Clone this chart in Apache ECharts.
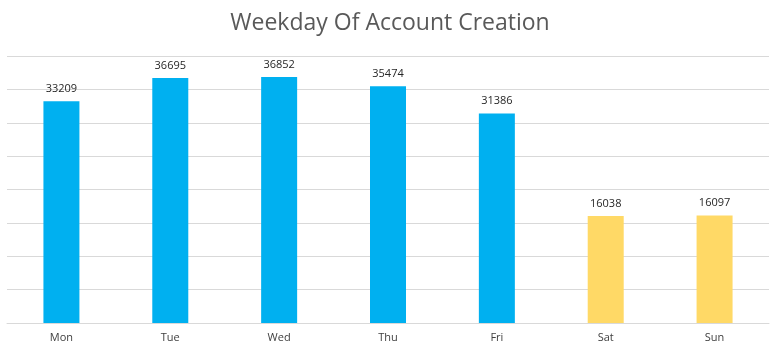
<!DOCTYPE html>
<html>
<head>
<meta charset="utf-8">
<script src="https://cdn.jsdelivr.net/npm/echarts@6/dist/echarts.min.js"></script>
<style>
  html, body { margin: 0; padding: 0; background: #fff; }
  #chart { width: 780px; height: 349px; }
</style>
</head>
<body>
<div id="chart"></div>
<script>
// Accounts created per weekday
const days = ['Mon', 'Tue', 'Wed', 'Thu', 'Fri', 'Sat', 'Sun'];
const accounts = [33209, 36695, 36852, 35474, 31386, 16038, 16097];
const weekendDays = ['Sat', 'Sun'];

const chart = echarts.init(document.getElementById('chart'));
chart.setOption({
  animation: false,
  title: {
    text: 'Weekday Of Account Creation',
    left: 'center',
    top: 7,
    textStyle: {
      fontFamily: 'Open Sans',
      fontWeight: 'normal',
      fontSize: 23,
      color: '#595959'
    }
  },
  grid: { left: 7, right: 11, top: 56, bottom: 26 },
  xAxis: {
    type: 'category',
    data: days,
    axisLine: { lineStyle: { color: '#d9d9d9' } },
    axisTick: { show: false },
    axisLabel: { color: '#404040', fontFamily: 'Open Sans', fontSize: 11, margin: 9 }
  },
  yAxis: {
    type: 'value',
    min: 0,
    max: 40000,
    interval: 5000,
    axisLabel: { show: false },
    axisLine: { show: false },
    axisTick: { show: false },
    splitLine: { lineStyle: { color: '#d9d9d9' } }
  },
  series: [{
    type: 'bar',
    data: accounts,
    barWidth: 36,
    itemStyle: {
      color: p => weekendDays.includes(p.name) ? '#FFD966' : '#00B0F0'
    },
    label: {
      show: true,
      position: 'top',
      distance: 7,
      color: '#262626',
      fontFamily: 'Open Sans',
      fontSize: 11
    }
  }]
});
</script>
</body>
</html>
